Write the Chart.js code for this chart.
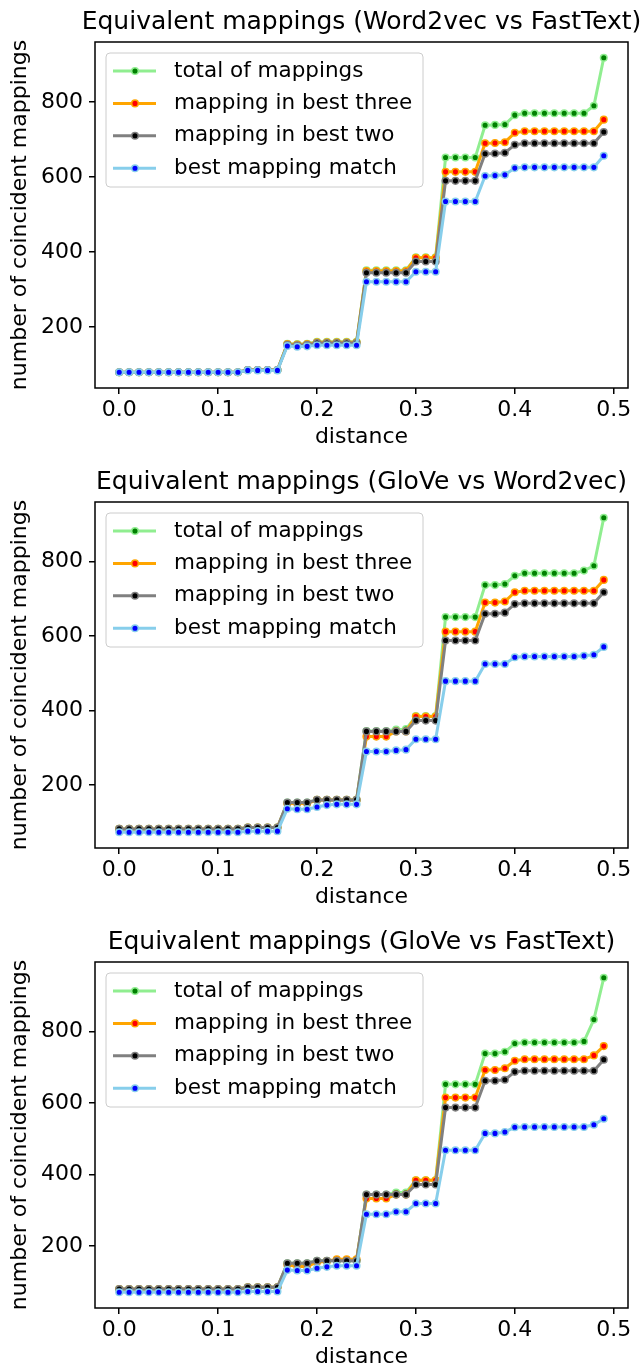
<!DOCTYPE html>
<html>
<head>
<meta charset="utf-8">
<script src="https://cdn.jsdelivr.net/npm/chart.js@4.4.1/dist/chart.umd.min.js"></script>
<style>
  html, body { margin: 0; padding: 0; background: #fff; overflow: hidden; }
  .panel { position: relative; width: 644px; height: 460px; }
</style>
</head>
<body>
<div class="panel"><canvas id="c1"></canvas></div>
<div class="panel"><canvas id="c2"></canvas></div>
<div class="panel"><canvas id="c3"></canvas></div>
<script>
// x values (distance threshold)
const distances = [0.00, 0.01, 0.02, 0.03, 0.04, 0.05, 0.06, 0.07, 0.08, 0.09,
                   0.10, 0.11, 0.12, 0.13, 0.14, 0.15, 0.16, 0.17, 0.18, 0.19,
                   0.20, 0.21, 0.22, 0.23, 0.24, 0.25, 0.26, 0.27, 0.28, 0.29,
                   0.30, 0.31, 0.32, 0.33, 0.34, 0.35, 0.36, 0.37, 0.38, 0.39,
                   0.40, 0.41, 0.42, 0.43, 0.44, 0.45, 0.46, 0.47, 0.48, 0.49];

const seriesNames = ['total of mappings', 'mapping in best three', 'mapping in best two', 'best mapping match'];
const yTicks = [200, 400, 600, 800];
const xTicks = [0.0, 0.1, 0.2, 0.3, 0.4, 0.5];

// Word2vec vs FastText
const w2vFtTotal = [80,80,80,80,80,80,80,80,80,80,80,80,80, 86,86,86,86, 156,155,156, 161,161,161,161,161,
                    352,352,352,352,352, 386,386,386, 652,652,652,652, 738,739,740,
                    765,770,770,770,770,770,770,770,790, 918];
const w2vFtThree = [80,80,80,80,80,80,80,80,80,80,80,80,80, 86,86,86,86, 155,154,155, 160,160,160,160,160,
                    350,350,350,350,350, 385,385,385, 614,614,614,614, 690,691,693,
                    718,722,722,722,722,722,722,722,722, 753];
const w2vFtTwo   = [80,80,80,80,80,80,80,80,80,80,80,80,80, 86,86,86,86, 153,152,153, 158,158,158,158,158,
                    345,345,345,345,345, 375,375,375, 590,590,590,590, 662,663,665,
                    686,690,690,690,690,690,690,690,690, 720];
const w2vFtBest  = [80,80,80,80,80,80,80,80,80,80,80,80,80, 85,85,85,85, 150,148,149, 152,152,152,152,152,
                    321,321,321,321,321, 348,348,348, 535,535,535,535, 603,604,606,
                    624,626,626,626,626,626,626,626,626, 657];

// GloVe vs Word2vec
const gloW2vTotal = [82,82,82,82,82,82,82,82,82,82,82,82,82, 86,86,86,86, 153,153,153, 160,160,160,160,160,
                     345,345,345,349,350, 385,385,385, 651,651,651,651, 737,737,740,
                     762,769,769,769,769,769,769,776,789, 918];
const gloW2vThree = [82,82,82,82,82,82,82,82,82,82,82,82,82, 86,86,86,86, 150,150,150, 160,160,160,160,160,
                     330,330,330,344,344, 384,384,384, 612,612,612,612, 690,690,693,
                     718,722,722,722,722,722,722,722,722, 751];
const gloW2vTwo   = [82,82,82,82,82,82,82,82,82,82,82,82,82, 86,86,86,86, 153,153,153, 160,160,160,160,160,
                     344,344,344,344,344, 373,373,373, 588,588,588,588, 660,660,663,
                     686,688,688,688,688,688,688,688,688, 718];
const gloW2vBest  = [73,73,73,73,73,73,73,73,73,73,73,73,73, 76,76,76,76, 136,135,135, 141,146,148,148,148,
                     290,290,290,293,295, 323,323,323, 479,479,479,479, 525,525,525,
                     543,545,545,545,545,545,545,547,550, 571];

// GloVe vs FastText
const gloFtTotal = [80,80,80,80,80,80,80,80,80,80,80,80,80, 85,85,85,85, 152,152,152, 159,159,159,159,159,
                    344,344,344,350,350, 384,384,384, 652,652,652,652, 738,738,743,
                    766,769,769,769,769,769,769,772,833, 950];
const gloFtThree = [80,80,80,80,80,80,80,80,80,80,80,80,80, 85,85,85,85, 148,143,143, 155,158,163,163,163,
                    333,333,333,344,344, 384,384,384, 615,615,615,615, 692,692,697,
                    718,722,722,722,722,722,722,722,733, 759];
const gloFtTwo   = [80,80,80,80,80,80,80,80,80,80,80,80,80, 85,85,85,85, 152,152,152, 159,159,159,159,159,
                    344,344,344,344,344, 372,372,372, 587,587,587,587, 662,662,665,
                    687,690,690,690,690,690,690,690,690, 721];
const gloFtBest  = [71,71,71,71,71,71,71,71,71,71,71,71,71, 73,73,73,73, 133,132,132, 138,142,145,145,145,
                    289,289,289,296,296, 319,319,319, 468,468,468,468, 515,515,519,
                    532,533,533,533,533,533,533,533,539, 556];

Chart.defaults.font.family = "'DejaVu Sans', sans-serif";
Chart.defaults.color = '#000';

const lineColors = ['#90ee90', '#ffa500', '#808080', '#87ceeb'];
const dotColors = ['#008000', '#ff0000', '#000000', '#0000ff'];

// title centred on the axes, frame, and legend inside the plot area (matplotlib look)
const frameAndLegend = {
  id: 'frameAndLegend',
  afterDatasetsDraw(chart, args, opts) {
    const ctx = chart.ctx;
    const a = chart.chartArea;
    ctx.save();
    ctx.strokeStyle = '#000';
    ctx.lineWidth = 1.5;
    ctx.strokeRect(a.left, a.top, a.right - a.left, a.bottom - a.top);

    ctx.fillStyle = '#000';
    ctx.font = "25px 'DejaVu Sans'";
    ctx.textAlign = 'center';
    ctx.textBaseline = 'middle';
    ctx.fillText(opts.text, (a.left + a.right) / 2, 22);

    const bx = a.left + 11, by = a.top + 11, bw = 317, bh = 134, r = 4;
    ctx.beginPath();
    ctx.moveTo(bx + r, by);
    ctx.arcTo(bx + bw, by, bx + bw, by + bh, r);
    ctx.arcTo(bx + bw, by + bh, bx, by + bh, r);
    ctx.arcTo(bx, by + bh, bx, by, r);
    ctx.arcTo(bx, by, bx + bw, by, r);
    ctx.closePath();
    ctx.fillStyle = 'rgba(255,255,255,0.8)';
    ctx.fill();
    ctx.strokeStyle = '#cccccc';
    ctx.lineWidth = 1;
    ctx.stroke();

    ctx.font = "21.5px 'DejaVu Sans'";
    ctx.textBaseline = 'middle';
    ctx.textAlign = 'left';
    seriesNames.forEach((name, k) => {
      const y = a.top + 29 + k * 32.4;
      ctx.strokeStyle = lineColors[k];
      ctx.lineWidth = 3;
      ctx.beginPath();
      ctx.moveTo(a.left + 18, y);
      ctx.lineTo(a.left + 61, y);
      ctx.stroke();
      ctx.beginPath();
      ctx.arc(a.left + 40, y, 3.3, 0, Math.PI * 2);
      ctx.fillStyle = dotColors[k];
      ctx.fill();
      ctx.lineWidth = 1.5;
      ctx.stroke();
      ctx.fillStyle = '#000';
      ctx.fillText(name, a.left + 79, y);
    });
    ctx.restore();
  }
};

function makePanel(id, title, series) {
  const all = series.flat();
  const lo = Math.min(...all), hi = Math.max(...all);
  const pad = (hi - lo) * 0.05;
  const datasets = series.map((vals, k) => ({
    label: seriesNames[k],
    data: distances.map((d, i) => ({ x: d, y: vals[i] })),
    borderColor: lineColors[k],
    backgroundColor: dotColors[k],
    borderWidth: 3,
    pointRadius: 3.3,
    pointBorderWidth: 1.5,
    pointBackgroundColor: dotColors[k],
    pointBorderColor: lineColors[k],
    tension: 0,
    order: 4 - k
  }));

  return new Chart(document.getElementById(id), {
    type: 'line',
    data: { datasets: datasets },
    plugins: [frameAndLegend],
    options: {
      responsive: true,
      maintainAspectRatio: false,
      animation: false,
      layout: { padding: { left: 0, right: 16, top: 42, bottom: 0 } },
      plugins: {
        legend: { display: false },
        tooltip: { enabled: false },
        title: { display: false },
        frameAndLegend: { text: title }
      },
      scales: {
        x: {
          type: 'linear',
          min: -0.0245,
          max: 0.5145,
          afterFit: (s) => { s.height = 72; },
          afterBuildTicks: (s) => { s.ticks = xTicks.map(v => ({ value: v })); },
          ticks: {
            font: { size: 22 },
            padding: 3,
            maxRotation: 0,
            callback: (v) => Number(v).toFixed(1)
          },
          grid: { drawOnChartArea: false, drawTicks: true, tickLength: 6, color: '#000', lineWidth: 1.5 },
          border: { display: false },
          title: { display: true, text: 'distance', font: { size: 22 }, padding: { top: 0, bottom: 10 } }
        },
        y: {
          min: lo - pad,
          max: hi + pad,
          afterFit: (s) => { s.width = 95; },
          afterBuildTicks: (s) => { s.ticks = yTicks.map(v => ({ value: v })); },
          ticks: { font: { size: 22 }, padding: 6 },
          grid: { drawOnChartArea: false, drawTicks: true, tickLength: 6, color: '#000', lineWidth: 1.5 },
          border: { display: false },
          title: { display: true, text: 'number of coincident mappings', font: { size: 22 }, padding: { top: 7, bottom: 0 } }
        }
      }
    }
  });
}

makePanel('c1', 'Equivalent mappings (Word2vec vs FastText)', [w2vFtTotal, w2vFtThree, w2vFtTwo, w2vFtBest]);
makePanel('c2', 'Equivalent mappings (GloVe vs Word2vec)', [gloW2vTotal, gloW2vThree, gloW2vTwo, gloW2vBest]);
makePanel('c3', 'Equivalent mappings (GloVe vs FastText)', [gloFtTotal, gloFtThree, gloFtTwo, gloFtBest]);
</script>
</body>
</html>
